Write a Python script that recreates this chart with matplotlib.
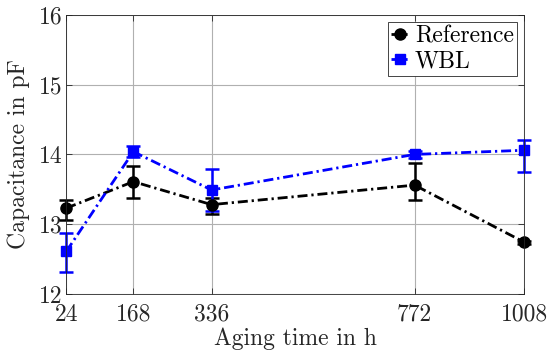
import matplotlib
matplotlib.use('Agg')
import matplotlib.pyplot as plt
from matplotlib.lines import Line2D
import numpy as np

#--- Data ---
aging_h = [24, 168, 336, 772, 1008]

ref_cap = [13.23, 13.61, 13.28, 13.56, 12.74]
ref_err_lo = [0.17, 0.23, 0.14, 0.21, 0.02]
ref_err_hi = [0.12, 0.23, 0.10, 0.31, 0.02]

wbl_cap = [12.61, 14.04, 13.49, 14.00, 14.06]
wbl_err_lo = [0.30, 0.08, 0.30, 0.05, 0.31]
wbl_err_hi = [0.27, 0.08, 0.30, 0.05, 0.15]

#--- Settings ---
plt.rcParams['font.family'] = 'serif'
plt.rcParams['font.serif'] = ['cmr10', 'DejaVu Serif']
plt.rcParams['mathtext.fontset'] = 'cm'
plt.rcParams['axes.formatter.use_mathtext'] = True
FontSize = 17
LineW = 2.0
MyDashes = (3.6, 1.4, 0.8, 1.4)

fig = plt.figure(figsize=(5.48, 3.55), dpi=100)
ax = fig.add_axes([0.121, 0.172, 0.836, 0.786])

series = [
    (ref_cap, ref_err_lo, ref_err_hi, 'black', 'o', 8, 'Reference'),
    (wbl_cap, wbl_err_lo, wbl_err_hi, 'blue', 's', 7, 'WBL'),
]

handles = []
for cap, elo, ehi, col, mk, msz, lab in series:
    cont = ax.errorbar(aging_h, cap, yerr=[elo, ehi],
                       color=col, ls='-.', lw=LineW, marker=mk, ms=msz,
                       elinewidth=1.8, capsize=5, capthick=1.8,
                       dashes=MyDashes)
    for art in cont.get_children():
        art.set_clip_on(False)
    handles.append(Line2D([], [], color=col, ls='-.', lw=LineW, marker=mk,
                          ms=msz, dashes=MyDashes, label=lab))

ax.set_xlim(24, 1008)
ax.set_ylim(12, 16)
ax.set_xticks(aging_h)
ax.set_xticklabels([str(v) for v in aging_h])
ax.set_yticks([12, 13, 14, 15, 16])
ax.set_yticklabels(['12', '13', '14', '15', '16'])
ax.tick_params(direction='in', top=True, right=True, labelsize=FontSize,
               length=4, width=0.6, colors='#262626')
ax.tick_params(axis='x', pad=7)
ax.tick_params(axis='y', pad=3)
for s in ax.spines.values():
    s.set_color('#262626')
    s.set_linewidth(0.6)
ax.grid(color='#b0b0b0', lw=0.8)
ax.set_axisbelow(True)

ax.set_xlabel('Aging time in h', fontsize=FontSize, color='#262626', labelpad=1)
ax.set_ylabel('Capacitance in pF', fontsize=FontSize, color='#262626', labelpad=6)

leg = ax.legend(handles=handles, loc='upper right', fontsize=FontSize,
                fancybox=False, edgecolor='#262626', framealpha=1,
                handlelength=0.7, handletextpad=0.3, borderpad=0.15,
                labelspacing=0.1, borderaxespad=0.3)
leg.get_frame().set_linewidth(0.6)

plt.savefig('out.png', dpi=100)
plt.close()
